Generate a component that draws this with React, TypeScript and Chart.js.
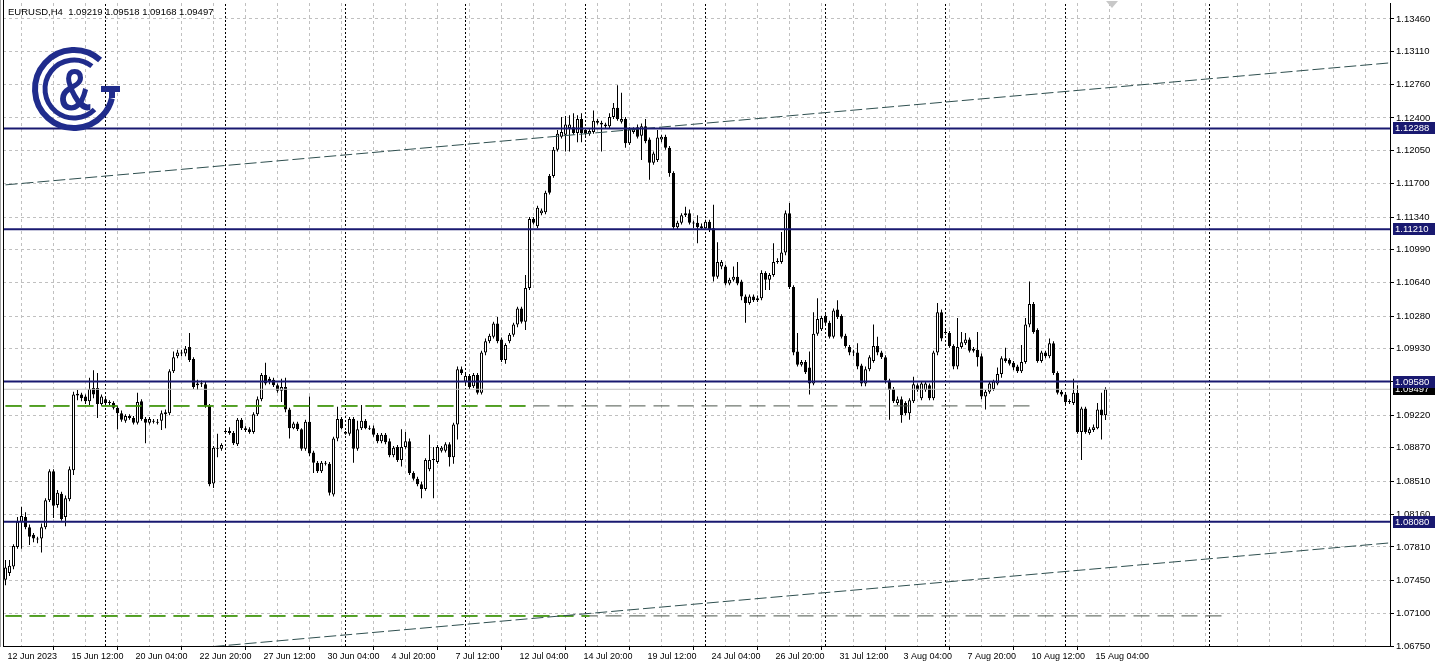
import React, { useEffect, useRef } from 'react';
import { Chart, registerables } from 'chart.js';

Chart.register(...registerables);

const symbol = 'EURUSD';
const timeframe = 'H4';

const open = [
  1.0746,1.0753,1.0760,1.0781,1.0808,1.0813,1.0802,1.0794,1.0790,1.0790,
  1.0802,1.0831,1.0862,1.0826,1.0838,1.0813,1.0832,1.0863,1.0945,1.0944,
  1.0942,1.0937,1.0951,1.0951,1.0934,1.0939,1.0936,1.0935,1.0930,1.0924,
  1.0916,1.0921,1.0919,1.0914,1.0937,1.0918,1.0914,1.0916,1.0915,1.0916,
  1.0923,1.0924,1.0969,1.0985,1.0988,1.0988,1.0995,1.0982,1.0956,1.0956,
  1.0955,1.0932,1.0849,1.0887,1.0886,1.0904,1.0905,1.0903,1.0891,1.0917,
  1.0908,1.0907,1.0904,1.0923,1.0939,1.0965,1.0961,1.0960,1.0954,1.0948,
  1.0952,1.0928,1.0908,1.0913,1.0907,1.0886,1.0915,1.0882,1.0871,1.0862,
  1.0871,1.0870,1.0837,1.0897,1.0918,1.0904,1.0902,1.0918,1.0886,1.0908,
  1.0916,1.0908,1.0908,1.0901,1.0894,1.0901,1.0894,1.0879,1.0888,1.0874,
  1.0888,1.0894,1.0860,1.0854,1.0848,1.0843,1.0864,1.0874,1.0872,1.0884,
  1.0884,1.0891,1.0877,1.0912,1.0971,1.0958,1.0964,1.0953,1.0965,1.0946,
  1.0989,1.1001,1.1006,1.1020,1.1003,1.0981,1.1001,1.1008,1.1019,1.1036,
  1.1022,1.1058,1.1132,1.1124,1.1138,1.1139,1.1178,1.1178,1.1206,1.1220,
  1.1222,1.1229,1.1230,1.1224,1.1239,1.1227,1.1223,1.1225,1.1237,1.1233,
  1.1231,1.1231,1.1241,1.1251,1.1236,1.1239,1.1213,1.1225,1.1230,1.1221,
  1.1231,1.1217,1.1192,1.1195,1.1217,1.1220,1.1208,1.1181,1.1123,1.1128,
  1.1136,1.1138,1.1128,1.1128,1.1124,1.1122,1.1129,1.1122,1.1070,1.1081,
  1.1081,1.1063,1.1067,1.1070,1.1065,1.1049,1.1042,1.1049,1.1045,1.1047,
  1.1074,1.1067,1.1072,1.1086,1.1086,1.1096,1.1138,1.1059,1.0990,1.0976,
  1.0979,1.0973,1.0956,1.1009,1.1014,1.1028,1.1021,1.1006,1.1035,1.1028,
  1.1007,1.0995,1.0990,1.0989,1.0975,1.0956,1.0971,1.0980,1.0996,1.0989,
  1.0984,1.0959,1.0950,1.0935,1.0939,1.0935,1.0924,1.0937,1.0954,1.0940,
  1.0949,1.0954,1.0940,1.0989,1.1032,1.1011,1.1010,1.0996,1.0974,1.0995,
  1.0999,1.1003,1.0993,1.0992,1.0985,1.0942,1.0947,1.0950,1.0956,1.0966,
  1.0983,1.0981,1.0978,1.0974,1.0969,1.0979,1.1019,1.1041,1.1013,1.0980,
  1.0989,1.0985,1.0999,1.0967,1.0947,1.0944,1.0937,1.0935,1.0946,1.0904,
  1.0929,1.0903,1.0906,1.0908,1.0928,1.09219,
];

const high = [
  1.0767,1.0767,1.0784,1.0813,1.0824,1.0818,1.0805,1.0796,1.0792,1.0806,
  1.0833,1.0864,1.0864,1.0842,1.0840,1.0836,1.0867,1.0947,1.0949,1.0946,
  1.0944,1.0962,1.0970,1.0967,1.0944,1.0942,1.0938,1.0937,1.0932,1.0927,
  1.0923,1.0923,1.0921,1.0946,1.0939,1.0920,1.0920,1.0918,1.0918,1.0927,
  1.0928,1.0971,1.0990,1.0992,1.0992,1.0996,1.1010,1.0984,1.0960,1.0959,
  1.0958,1.0934,1.0889,1.0902,1.0892,1.0908,1.0909,1.0905,1.0919,1.0919,
  1.0910,1.0909,1.0925,1.0942,1.0967,1.0978,1.0963,1.0962,1.0956,1.0961,
  1.0962,1.0930,1.0915,1.0915,1.0908,1.0917,1.0942,1.0884,1.0873,1.0873,
  1.0873,1.0872,1.0899,1.0931,1.0920,1.0905,1.0920,1.0920,1.0916,1.0933,
  1.0918,1.0911,1.0911,1.0903,1.0903,1.0903,1.0897,1.0889,1.0890,1.0907,
  1.0904,1.0897,1.0862,1.0856,1.0851,1.0876,1.0901,1.0888,1.0890,1.0889,
  1.0893,1.0893,1.0914,1.0974,1.0974,1.0966,1.0966,1.0967,1.0967,1.0991,
  1.1004,1.1009,1.1022,1.1027,1.1005,1.0999,1.1010,1.1021,1.1038,1.1038,
  1.1072,1.1134,1.1134,1.1146,1.1143,1.1162,1.1180,1.1209,1.1227,1.1241,
  1.1242,1.1243,1.1245,1.1243,1.1245,1.1229,1.1228,1.1248,1.1239,1.1237,
  1.1235,1.1245,1.1256,1.1275,1.1267,1.1241,1.1230,1.1230,1.1233,1.1234,
  1.1239,1.1219,1.1204,1.1227,1.1222,1.1222,1.1210,1.1183,1.1130,1.1138,
  1.1145,1.1142,1.1130,1.1136,1.1127,1.1131,1.1131,1.1147,1.1107,1.1088,
  1.1083,1.1069,1.1081,1.1086,1.1067,1.1051,1.1051,1.1051,1.1050,1.1077,
  1.1076,1.1074,1.1106,1.1090,1.1118,1.1141,1.1149,1.1061,1.1010,1.0981,
  1.0981,1.0990,1.1032,1.1047,1.1028,1.1030,1.1023,1.1036,1.1045,1.1030,
  1.1009,1.0997,1.0992,1.0999,1.0977,1.0974,1.0986,1.1019,1.1006,1.0991,
  1.0986,1.0961,1.0952,1.0942,1.0942,1.0937,1.0940,1.0963,1.0956,1.0958,
  1.0958,1.0956,1.0991,1.1042,1.1035,1.1013,1.1012,1.0998,1.1026,1.1011,
  1.1010,1.1005,1.0995,1.1011,1.0988,1.0949,1.0958,1.0960,1.0973,1.0985,
  1.0994,1.0983,1.0980,1.0976,1.0997,1.1026,1.1065,1.1043,1.1015,1.0991,
  1.0991,1.1004,1.1001,1.0969,1.0949,1.0946,1.0939,1.0961,1.0954,1.0931,
  1.0931,1.0909,1.0912,1.0935,1.0946,1.09518,
];

const low = [
  1.0740,1.0750,1.0757,1.0779,1.0779,1.0800,1.0783,1.0786,1.0785,1.0775,
  1.0800,1.0829,1.0812,1.0823,1.0809,1.0803,1.0830,1.0858,1.0938,1.0937,
  1.0934,1.0933,1.0940,1.0919,1.0932,1.0933,1.0933,1.0928,1.0907,1.0915,
  1.0914,1.0917,1.0912,1.0912,1.0916,1.0892,1.0912,1.0913,1.0912,1.0906,
  1.0908,1.0922,1.0967,1.0983,1.0985,1.0985,1.0979,1.0950,1.0949,1.0952,
  1.0930,1.0846,1.0844,1.0877,1.0884,1.0902,1.0901,1.0890,1.0889,1.0906,
  1.0904,1.0902,1.0902,1.0921,1.0937,1.0954,1.0955,1.0952,1.0946,1.0936,
  1.0925,1.0897,1.0907,1.0905,1.0884,1.0884,1.0878,1.0860,1.0860,1.0860,
  1.0868,1.0836,1.0835,1.0894,1.0907,1.0901,1.0900,1.0871,1.0884,1.0906,
  1.0907,1.0906,1.0899,1.0892,1.0892,1.0891,1.0877,1.0877,1.0872,1.0867,
  1.0886,1.0858,1.0852,1.0846,1.0833,1.0841,1.0862,1.0833,1.0870,1.0882,
  1.0882,1.0867,1.0870,1.0896,1.0965,1.0955,1.0950,1.0951,1.0944,1.0944,
  1.0986,1.0999,1.1004,1.0999,1.0979,1.0977,1.0999,1.1006,1.1016,1.1020,
  1.1013,1.1056,1.1126,1.1122,1.1136,1.1137,1.1158,1.1176,1.1204,1.1218,
  1.1204,1.1204,1.1222,1.1214,1.1214,1.1221,1.1221,1.1223,1.1233,1.1204,
  1.1229,1.1229,1.1239,1.1237,1.1234,1.1208,1.1211,1.1223,1.1218,1.1195,
  1.1213,1.1174,1.1190,1.1193,1.1214,1.1206,1.1177,1.1121,1.1121,1.1126,
  1.1134,1.1126,1.1122,1.1106,1.1120,1.1120,1.1118,1.1065,1.1068,1.1078,
  1.1061,1.1061,1.1065,1.1061,1.1045,1.1021,1.1040,1.1043,1.1043,1.1045,
  1.1056,1.1056,1.1070,1.1084,1.1084,1.1093,1.1057,1.0986,1.0974,1.0974,
  1.0966,1.0944,1.0954,1.1007,1.1012,1.1019,1.1004,1.1004,1.1025,1.1004,
  1.0994,1.0986,1.0985,1.0971,1.0953,1.0953,1.0969,1.0978,1.0986,1.0982,
  1.0956,1.0917,1.0935,1.0933,1.0914,1.0922,1.0917,1.0935,1.0947,1.0938,
  1.0947,1.0938,1.0938,1.0986,1.1001,1.1008,1.0994,1.0971,1.0971,1.0993,
  1.0997,1.0989,1.0989,1.0974,1.0939,1.0928,1.0945,1.0948,1.0954,1.0962,
  1.0978,1.0975,1.0970,1.0967,1.0967,1.0977,1.1016,1.1009,1.0978,1.0978,
  1.0983,1.0983,1.0965,1.0944,1.0942,1.0934,1.0934,1.0933,1.0902,1.0874,
  1.0902,1.0901,1.0904,1.0907,1.0896,1.09168,
];

const close = [
  1.0759,1.0761,1.0782,1.0808,1.0814,1.0802,1.0792,1.0790,1.0789,1.0802,
  1.0831,1.0862,1.0825,1.0839,1.0811,1.0833,1.0864,1.0944,1.0943,1.0940,
  1.0937,1.0950,1.0944,1.0934,1.0942,1.0935,1.0935,1.0930,1.0924,1.0917,
  1.0921,1.0919,1.0914,1.0936,1.0918,1.0914,1.0918,1.0915,1.0914,1.0924,
  1.0925,1.0969,1.0984,1.0989,1.0989,1.0993,1.0981,1.0952,1.0954,1.0955,
  1.0932,1.0848,1.0887,1.0886,1.0890,1.0905,1.0903,1.0892,1.0917,1.0908,
  1.0906,1.0904,1.0923,1.0939,1.0965,1.0956,1.0958,1.0954,1.0948,1.0952,
  1.0928,1.0908,1.0913,1.0907,1.0886,1.0915,1.0881,1.0871,1.0862,1.0871,
  1.0870,1.0839,1.0897,1.0918,1.0908,1.0902,1.0918,1.0886,1.0907,1.0916,
  1.0908,1.0907,1.0901,1.0894,1.0901,1.0893,1.0879,1.0887,1.0874,1.0888,
  1.0894,1.0860,1.0854,1.0848,1.0843,1.0874,1.0874,1.0875,1.0888,1.0887,
  1.0891,1.0877,1.0912,1.0971,1.0967,1.0964,1.0952,1.0965,1.0946,1.0989,
  1.1001,1.1007,1.1020,1.1001,1.0981,1.0997,1.1008,1.1019,1.1036,1.1022,
  1.1058,1.1132,1.1128,1.1144,1.1141,1.1160,1.1160,1.1206,1.1223,1.1225,
  1.1233,1.1233,1.1224,1.1239,1.1224,1.1223,1.1226,1.1237,1.1235,1.1235,
  1.1233,1.1241,1.1251,1.1239,1.1239,1.1213,1.1228,1.1228,1.1220,1.1231,
  1.1215,1.1192,1.1202,1.1219,1.1220,1.1208,1.1181,1.1123,1.1128,1.1136,
  1.1138,1.1128,1.1127,1.1123,1.1122,1.1129,1.1120,1.1070,1.1086,1.1086,
  1.1063,1.1067,1.1070,1.1063,1.1049,1.1042,1.1049,1.1045,1.1047,1.1074,
  1.1067,1.1072,1.1086,1.1087,1.1096,1.1138,1.1059,1.0989,1.0976,1.0979,
  1.0968,1.0956,1.1009,1.1025,1.1026,1.1021,1.1006,1.1034,1.1027,1.1006,
  1.0996,1.0989,1.0989,1.0974,1.0956,1.0971,1.0984,1.0996,1.0989,1.0984,
  1.0959,1.0949,1.0937,1.0939,1.0922,1.0924,1.0938,1.0955,1.0949,1.0956,
  1.0956,1.0940,1.0989,1.1032,1.1004,1.1010,1.0996,1.0974,1.0995,1.1000,
  1.1003,1.0991,1.0991,1.0984,1.0942,1.0947,1.0956,1.0958,1.0966,1.0983,
  1.0980,1.0977,1.0973,1.0969,1.0979,1.1019,1.1041,1.1011,1.0980,1.0989,
  1.0985,1.0999,1.0967,1.0946,1.0944,1.0936,1.0936,1.0946,1.0904,1.0929,
  1.0904,1.0907,1.0909,1.0928,1.0922,1.09497,
];

// time axis labels (one every 16 bars), grid every 8 bars
const xTickLabels = [
  '12 Jun 2023', '15 Jun 12:00', '20 Jun 04:00', '22 Jun 20:00', '27 Jun 12:00',
  '30 Jun 04:00', '4 Jul 20:00', '7 Jul 12:00', '12 Jul 04:00', '14 Jul 20:00',
  '19 Jul 12:00', '24 Jul 04:00', '26 Jul 20:00', '31 Jul 12:00', '3 Aug 04:00',
  '7 Aug 20:00', '10 Aug 12:00', '15 Aug 04:00',
];
const xLabelEvery = 16;
const xGridEvery = 8;

// price axis labels, bottom to top
const yTickLabels = [
  '1.06750', '1.07100', '1.07450', '1.07810', '1.08160', '1.08510', '1.08870',
  '1.09220', '1.09580', '1.09930', '1.10280', '1.10640', '1.10990', '1.11340',
  '1.11700', '1.12050', '1.12400', '1.12760', '1.13110', '1.13460',
];

// horizontal support / resistance levels
const levelPrices = [1.12288, 1.1121, 1.0958, 1.0808];
// dashed levels: price, bar where the grey line ends, bar where the green part ends
const dashedLevelPrices = [1.09319, 1.07072];
const dashedLevelEndBars = [256, 306];
const dashedGreenEndBars = [130, 146];
// channel lines: price at first and last bar
const channelBars = [0, 346];
const channelUpper = [1.11684, 1.12989];
const channelLower = [1.06548, 1.07853];
// weekly period separators (bar index of each Monday 00:00)
const separatorBars = [25, 55, 85, 115, 145, 175, 205, 235, 265, 301];

const X_MIN = -0.625;
const X_MAX = 346.125;
const Y_MIN = 1.0675;
const Y_MAX = 1.1363;

const NAVY = '#191970';
const FONT = '"Liberation Sans", Arial, sans-serif';

const overlayPlugin = {
  id: 'overlay',
  afterDraw(chart: any) {
    const { ctx, chartArea: a, scales } = chart;
    const ys = scales.y;
    const last = close.length - 1;
    ctx.save();
    // frame on the left
    ctx.fillStyle = '#a0a0a0';
    ctx.fillRect(0, 0, 1, a.bottom + 1);
    ctx.fillStyle = '#000';
    ctx.fillRect(a.left, 0, 1, a.bottom + 1);
    // header
    ctx.font = `9.5px ${FONT}`;
    ctx.textBaseline = 'middle';
    ctx.textAlign = 'left';
    ctx.fillStyle = '#000';
    const title = `${symbol},${timeframe}  ${open[last].toFixed(5)} ${high[last].toFixed(5)} ${low[last].toFixed(5)} ${close[last].toFixed(5)}`;
    ctx.fillText(title, 8, 12.5);
    // price boxes on the axis
    const box = (p: number, bg: string) => {
      const yy = Math.round(ys.getPixelForValue(p));
      ctx.fillStyle = bg;
      ctx.fillRect(a.right + 3, yy - 6, 42, 12);
      ctx.fillStyle = '#fff';
      ctx.fillText(p.toFixed(5), a.right + 5, yy + 0.5);
    };
    box(close[last], '#000');
    levelPrices.forEach((p) => box(p, NAVY));
    // shift marker
    ctx.fillStyle = '#c8c8c8';
    ctx.beginPath();
    ctx.moveTo(1106, 1);
    ctx.lineTo(1118, 1);
    ctx.lineTo(1112, 8);
    ctx.closePath();
    ctx.fill();
    // logo
    const cx = 74, cy = 89, D = Math.PI / 180;
    ctx.strokeStyle = '#202c8c';
    ctx.fillStyle = '#202c8c';
    ctx.lineWidth = 6;
    ctx.beginPath();
    ctx.arc(cx, cy, 39, -48 * D, 14 * D, true);
    ctx.stroke();
    ctx.fillRect(cx + 27, cy - 3, 19, 6);
    ctx.fillRect(cx + 35, cy - 3, 6, 12);
    ctx.lineWidth = 5;
    ctx.beginPath();
    ctx.arc(cx, cy, 29, -52 * D, 45 * D, true);
    ctx.stroke();
    ctx.save();
    ctx.translate(cx + 1, cy + 4);
    ctx.scale(0.78, 1);
    ctx.font = `bold 60px ${FONT}`;
    ctx.textAlign = 'center';
    ctx.textBaseline = 'middle';
    ctx.fillText('&', 0, 0);
    ctx.restore();
    ctx.restore();
  },
};

export default function App() {
  const ref = useRef<HTMLCanvasElement>(null);
  useEffect(() => {
    document.body.style.margin = '0';
    const canvas = ref.current;
    if (!canvas) return;
    const idx = close.map((_, i) => i);
    const bodies = idx.map((i) => ({ x: i, y: [open[i], close[i]] }));
    const wicks = idx.map((i) => ({ x: i, y: [low[i], high[i]] }));
    const bodyColors = idx.map((i) => (close[i] >= open[i] ? '#ffffff' : '#000000'));
    const lineDs = (data: any[], color: string, width: number, dash: number[], order: number) => ({
      type: 'line',
      data,
      borderColor: color,
      borderWidth: width,
      borderDash: dash,
      pointRadius: 0,
      fill: false,
      tension: 0,
      order,
    });
    const datasets: any[] = [];
    separatorBars.forEach((b) =>
      datasets.push(lineDs([{ x: b, y: Y_MIN }, { x: b, y: Y_MAX }], '#000000', 1, [2, 2], 9)),
    );
    datasets.push({
      type: 'bar',
      data: wicks,
      backgroundColor: '#000000',
      borderWidth: 0,
      barThickness: 1,
      grouped: false,
      inflateAmount: 0,
      order: 6,
    });
    datasets.push({
      type: 'bar',
      data: bodies,
      backgroundColor: bodyColors,
      borderColor: '#000000',
      borderWidth: 1,
      borderSkipped: false,
      barThickness: 3,
      minBarLength: 1,
      grouped: false,
      inflateAmount: 0,
      order: 5,
    });
    dashedLevelPrices.forEach((p, k) =>
      datasets.push(lineDs([{ x: 0, y: p }, { x: dashedLevelEndBars[k], y: p }], '#4a554a', 1, [16, 8], 4.5)),
    );
    dashedLevelPrices.forEach((p, k) =>
      datasets.push(lineDs([{ x: 0, y: p }, { x: dashedGreenEndBars[k], y: p }], '#3ca000', 1.5, [16, 8], 4)),
    );
    datasets.push(lineDs([{ x: X_MIN, y: close[close.length - 1] }, { x: X_MAX, y: close[close.length - 1] }], '#c0c0c0', 1, [], 3));
    datasets.push(lineDs([{ x: channelBars[0], y: channelUpper[0] }, { x: channelBars[1], y: channelUpper[1] }], '#2f4f4f', 1, [12, 4], 2));
    datasets.push(lineDs([{ x: channelBars[0], y: channelLower[0] }, { x: channelBars[1], y: channelLower[1] }], '#2f4f4f', 1, [12, 4], 2));
    levelPrices.forEach((p) =>
      datasets.push(lineDs([{ x: X_MIN, y: p }, { x: X_MAX, y: p }], NAVY, 2, [], 1)),
    );

    const xTicks: number[] = [];
    for (let v = 0; v <= X_MAX; v += xGridEvery) xTicks.push(v);
    const yTicks = yTickLabels.map((s) => parseFloat(s));

    const chart = new Chart(canvas, {
      type: 'bar',
      data: { datasets },
      options: {
        animation: false,
        responsive: false,
        maintainAspectRatio: false,
        events: [],
        layout: { padding: { left: 3, top: 3, right: 0, bottom: 0 } },
        plugins: { legend: { display: false }, tooltip: { enabled: false }, title: { display: false } },
        scales: {
          x: {
            type: 'linear',
            position: 'bottom',
            min: X_MIN,
            max: X_MAX,
            offset: false,
            afterBuildTicks: (s: any) => {
              s.ticks = xTicks.map((v) => ({ value: v }));
            },
            afterFit: (s: any) => {
              s.height = 24;
              s.paddingLeft = 0;
              s.paddingRight = 0;
            },
            ticks: {
              autoSkip: false,
              maxRotation: 0,
              minRotation: 0,
              align: 'start',
              labelOffset: 2,
              padding: 1,
              color: '#000',
              font: { family: FONT, size: 9 },
              callback: (v: any) => {
                const n = Number(v);
                if (n % xLabelEvery !== 0) return '';
                return xTickLabels[n / xLabelEvery] ?? '';
              },
            },
            grid: {
              color: '#c0c0c0',
              lineWidth: 1,
              drawTicks: true,
              tickLength: 4,
              tickColor: (c: any) =>
                c.tick && c.tick.value % xLabelEvery === 0 && c.tick.value / xLabelEvery < xTickLabels.length
                  ? '#000'
                  : 'rgba(0,0,0,0)',
            },
            border: { display: true, color: '#000', width: 1, dash: [3, 3] },
          },
          y: {
            type: 'linear',
            position: 'right',
            min: Y_MIN,
            max: Y_MAX,
            afterBuildTicks: (s: any) => {
              s.ticks = yTicks.map((v) => ({ value: v }));
            },
            afterFit: (s: any) => {
              s.width = 48;
              s.paddingTop = 0;
              s.paddingBottom = 0;
            },
            ticks: {
              padding: 2,
              color: '#000',
              font: { family: FONT, size: 9.5 },
              callback: (_v: any, i: number) => yTickLabels[i],
            },
            grid: {
              color: '#c0c0c0',
              lineWidth: 1,
              drawTicks: true,
              tickLength: 4,
              tickColor: '#000',
            },
            border: { display: true, color: '#000', width: 1, dash: [3, 3] },
          },
        },
      } as any,
      plugins: [overlayPlugin],
    });
    return () => chart.destroy();
  }, []);
  return (
    <div style={{ position: 'absolute', left: 0, top: 0, width: 1438, height: 670, background: '#fff' }}>
      <canvas ref={ref} width={1438} height={670} style={{ display: 'block' }} />
    </div>
  );
}
